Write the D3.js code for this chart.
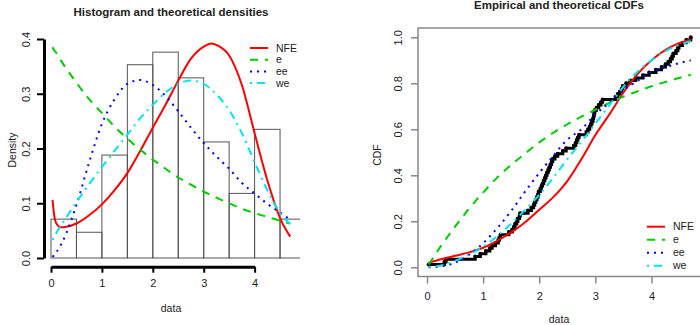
<!DOCTYPE html>
<html>
<head>
<meta charset="utf-8">
<script src="https://cdn.jsdelivr.net/npm/d3@7"></script>
<style>
  body { margin: 0; background: #fff; }
  text { font-family: "Liberation Sans", Arial, sans-serif; fill: #222; }
</style>
</head>
<body>
<div id="chart"></div>
<script>
// Fitted distributions: histogram + densities (left), ECDF + CDFs (right)

// Pt. 0 - DATA

const fitNames = ["NFE", "e", "ee", "we"];

const histBreaks = [0, 0.5, 1, 1.5, 2, 2.5, 3, 3.5, 4, 4.5, 5];
const histDensity = [0.071, 0.047, 0.188, 0.353, 0.376, 0.329, 0.212, 0.118, 0.235, 0.071];

const densX = [0.03, 0.06, 0.1, 0.2, 0.3, 0.5, 0.75, 1, 1.25, 1.5, 1.75, 2, 2.25, 2.5, 2.75, 3, 3.15, 3.3, 3.5, 3.75, 4, 4.25, 4.5, 4.7];
const densNFE = [0.106, 0.08, 0.064, 0.056, 0.057, 0.063, 0.078, 0.098, 0.124, 0.155, 0.195, 0.238, 0.28, 0.324, 0.364, 0.386, 0.392, 0.387, 0.37, 0.316, 0.228, 0.142, 0.073, 0.039];
const densE   = [0.385, 0.38, 0.375, 0.36, 0.346, 0.32, 0.29, 0.265, 0.24, 0.218, 0.198, 0.18, 0.163, 0.147, 0.134, 0.121, 0.115, 0.108, 0.1, 0.09, 0.082, 0.075, 0.068, 0.063];
const densEE  = [0.002, 0.005, 0.01, 0.025, 0.045, 0.097, 0.175, 0.245, 0.29, 0.318, 0.325, 0.316, 0.296, 0.268, 0.238, 0.21, 0.195, 0.181, 0.163, 0.137, 0.118, 0.099, 0.083, 0.07];
const densWE  = [0.033, 0.038, 0.045, 0.06, 0.074, 0.102, 0.135, 0.166, 0.196, 0.225, 0.255, 0.28, 0.302, 0.318, 0.324, 0.318, 0.308, 0.294, 0.27, 0.228, 0.175, 0.124, 0.082, 0.062];

const cdfX = [0.03, 0.25, 0.5, 0.75, 1, 1.25, 1.5, 1.75, 2, 2.25, 2.5, 2.75, 3, 3.25, 3.5, 3.75, 4, 4.25, 4.5, 4.7];
const cdfNFE = [0.02, 0.035, 0.05, 0.065, 0.085, 0.115, 0.152, 0.196, 0.25, 0.305, 0.375, 0.47, 0.575, 0.665, 0.76, 0.84, 0.9, 0.945, 0.975, 0.99];
const cdfE   = [0.012, 0.093, 0.177, 0.255, 0.325, 0.39, 0.445, 0.495, 0.543, 0.585, 0.622, 0.655, 0.685, 0.715, 0.742, 0.765, 0.787, 0.806, 0.824, 0.837];
const cdfEE  = [0.0, 0.004, 0.02, 0.055, 0.105, 0.17, 0.245, 0.33, 0.41, 0.485, 0.555, 0.6, 0.665, 0.715, 0.77, 0.81, 0.85, 0.87, 0.888, 0.9];
const cdfWE  = [0.002, 0.008, 0.028, 0.055, 0.09, 0.135, 0.19, 0.25, 0.315, 0.39, 0.47, 0.545, 0.625, 0.705, 0.785, 0.85, 0.9, 0.94, 0.968, 0.983];

// sorted observations for the empirical CDF (n = 85)
const obs = [0.03, 0.31, 0.34,
  0.86, 0.95,
  1.05, 1.12, 1.16, 1.22, 1.27, 1.29, 1.31, 1.46,
  1.52, 1.55, 1.57, 1.6, 1.62, 1.65, 1.66, 1.8, 1.86, 1.9, 1.92, 1.94, 1.96, 1.98, 1.99,
  2.02, 2.04, 2.06, 2.08, 2.1, 2.12, 2.14, 2.16, 2.18, 2.2, 2.22, 2.24, 2.28, 2.33, 2.42, 2.48,
  2.62, 2.65, 2.67, 2.69, 2.71, 2.84, 2.87, 2.9, 2.92, 2.94, 2.96, 2.97, 2.98, 2.99,
  3.02, 3.06, 3.1, 3.13, 3.36, 3.4, 3.44, 3.47, 3.49,
  3.55, 3.62, 3.72, 3.85, 3.96,
  4.08, 4.18, 4.25, 4.3, 4.34, 4.37, 4.39, 4.44, 4.47, 4.49,
  4.55, 4.62, 4.7];

const xTicks = [0, 1, 2, 3, 4];
const densTicks = [0, 0.1, 0.2, 0.3, 0.4];
const cdfTicks = [0, 0.2, 0.4, 0.6, 0.8, 1.0];

// Pt. 1 - STYLES per fit

const colors = ["#ff0000", "#00cd00", "#0000ff", "#00e5ee"];
const dashes = [null, "8,7", "2,5", "2,5,8,5"];

const width = 700, height = 325;

let svg = d3.select("#chart")
    .append("svg")
    .attr("width", width)
    .attr("height", height);

svg.append("rect").attr("width", width).attr("height", height).attr("fill", "#fff");

let defs = svg.append("defs");
defs.append("clipPath").attr("id", "clipL")
    .append("rect").attr("x", 44).attr("y", 28).attr("width", 256).attr("height", 239);
defs.append("clipPath").attr("id", "clipR")
    .append("rect").attr("x", 418).attr("y", 28).attr("width", 283).attr("height", 249);

// Pt. 2 - LEFT PANEL: HISTOGRAM + DENSITIES

let x = d3.scaleLinear().domain([0, 4]).range([51, 254.6]);
let y = d3.scaleLinear().domain([0, 0.4]).range([258, 39]);

let left = svg.append("g");
let plotL = left.append("g").attr("clip-path", "url(#clipL)");

plotL.selectAll(".bar")
    .data(histDensity)
    .join("rect")
    .attr("class", "bar")
    .attr("x", (d, i) => x(histBreaks[i]))
    .attr("width", (d, i) => x(histBreaks[i + 1]) - x(histBreaks[i]))
    .attr("y", d => y(d))
    .attr("height", d => y(0) - y(d))
    .attr("fill", "none")
    .attr("stroke", "#555")
    .attr("stroke-width", 1);

const densSeries = [densNFE, densE, densEE, densWE];
let densLine = d3.line().x(d => x(d[0])).y(d => y(d[1])).curve(d3.curveMonotoneX);

densSeries.forEach((s, k) => {
    plotL.append("path")
        .datum(densX.map((v, i) => [v, s[i]]))
        .attr("d", densLine)
        .attr("fill", "none")
        .attr("stroke", colors[k])
        .attr("stroke-width", 2)
        .attr("stroke-dasharray", dashes[k]);
});

// axes (thick black, R style)
let axL = left.append("g")
    .attr("transform", "translate(44,0)")
    .call(d3.axisLeft(y).tickValues(densTicks).tickFormat(d3.format(".1f")).tickSize(7).tickSizeOuter(0));
let axB = left.append("g")
    .attr("transform", "translate(0,266.7)")
    .call(d3.axisBottom(x).tickValues(xTicks).tickFormat(d3.format("d")).tickSize(6).tickSizeOuter(0));

[axL, axB].forEach(a => {
    a.select(".domain").attr("stroke", "#000").attr("stroke-width", 3);
    a.selectAll(".tick line").attr("stroke", "#000").attr("stroke-width", 2);
    a.selectAll("text").style("font-size", "11px").attr("fill", "#222");
});
axL.selectAll(".tick text")
    .attr("transform", "rotate(-90)")
    .attr("text-anchor", "middle")
    .attr("x", 0).attr("y", -14).attr("dy", null);
axB.selectAll(".tick text").attr("y", 13);

left.append("text")
    .attr("x", 171).attr("y", 16)
    .attr("text-anchor", "middle")
    .style("font-size", "11.5px").style("font-weight", "bold")
    .text("Histogram and theoretical densities");
left.append("text")
    .attr("x", 171).attr("y", 312)
    .attr("text-anchor", "middle")
    .style("font-size", "10.5px")
    .text("data");
left.append("text")
    .attr("transform", "translate(16,150) rotate(-90)")
    .attr("text-anchor", "middle")
    .style("font-size", "10.5px")
    .text("Density");

// legend (top right)
let legL = left.append("g");
fitNames.forEach((n, k) => {
    let yy = 48 + k * 11.7;
    legL.append("line")
        .attr("x1", 250).attr("x2", 268).attr("y1", yy).attr("y2", yy)
        .attr("stroke", colors[k]).attr("stroke-width", 2)
        .attr("stroke-dasharray", dashes[k]);
    legL.append("text")
        .attr("x", 276).attr("y", yy + 3.6)
        .style("font-size", "10.5px")
        .text(n);
});

// Pt. 3 - RIGHT PANEL: EMPIRICAL + THEORETICAL CDFs

let x2 = d3.scaleLinear().domain([0, 4]).range([427, 651.5]);
let y2 = d3.scaleLinear().domain([0, 1]).range([267.3, 37.3]);

let right = svg.append("g");
let plotR = right.append("g").attr("clip-path", "url(#clipR)");

const n = obs.length;
let ecdf = obs.map((v, i) => [v, (i + 1) / n]);

plotR.append("path")
    .datum(ecdf)
    .attr("d", d3.line().x(d => x2(d[0])).y(d => y2(d[1])).curve(d3.curveStepAfter))
    .attr("fill", "none")
    .attr("stroke", "#000")
    .attr("stroke-width", 3);
plotR.selectAll(".pt")
    .data(ecdf)
    .join("circle")
    .attr("class", "pt")
    .attr("cx", d => x2(d[0]))
    .attr("cy", d => y2(d[1]))
    .attr("r", 2)
    .attr("fill", "#000");

const cdfSeries = [cdfNFE, cdfE, cdfEE, cdfWE];
let cdfLine = d3.line().x(d => x2(d[0])).y(d => y2(d[1])).curve(d3.curveMonotoneX);
cdfSeries.forEach((s, k) => {
    plotR.append("path")
        .datum(cdfX.map((v, i) => [v, s[i]]))
        .attr("d", cdfLine)
        .attr("fill", "none")
        .attr("stroke", colors[k])
        .attr("stroke-width", 2)
        .attr("stroke-dasharray", dashes[k]);
});

// box
right.append("rect")
    .attr("x", 418).attr("y", 28).attr("width", 283).attr("height", 248.5)
    .attr("fill", "none").attr("stroke", "#888").attr("stroke-width", 1.5);

let axL2 = right.append("g")
    .attr("transform", "translate(418,0)")
    .call(d3.axisLeft(y2).tickValues(cdfTicks).tickFormat(d3.format(".1f")).tickSize(7).tickSizeOuter(0));
let axB2 = right.append("g")
    .attr("transform", "translate(0,276.5)")
    .call(d3.axisBottom(x2).tickValues(xTicks).tickFormat(d3.format("d")).tickSize(7).tickSizeOuter(0));

[axL2, axB2].forEach(a => {
    a.select(".domain").remove();
    a.selectAll(".tick line").attr("stroke", "#888").attr("stroke-width", 1.5);
    a.selectAll("text").style("font-size", "11px").attr("fill", "#222");
});
axL2.selectAll(".tick text")
    .attr("transform", "rotate(-90)")
    .attr("text-anchor", "middle")
    .attr("x", 0).attr("y", -16).attr("dy", null);
axB2.selectAll(".tick text").attr("y", 16);

right.append("text")
    .attr("x", 559).attr("y", 9)
    .attr("text-anchor", "middle")
    .style("font-size", "11.5px").style("font-weight", "bold")
    .text("Empirical and theoretical CDFs");
right.append("text")
    .attr("x", 559).attr("y", 323)
    .attr("text-anchor", "middle")
    .style("font-size", "10.5px")
    .text("data");
right.append("text")
    .attr("transform", "translate(381,155) rotate(-90)")
    .attr("text-anchor", "middle")
    .style("font-size", "10.5px")
    .text("CDF");

// legend (bottom right)
let legR = right.append("g");
fitNames.forEach((nm, k) => {
    let yy = 226.7 + k * 13;
    legR.append("line")
        .attr("x1", 647).attr("x2", 665).attr("y1", yy).attr("y2", yy)
        .attr("stroke", colors[k]).attr("stroke-width", 2)
        .attr("stroke-dasharray", dashes[k]);
    legR.append("text")
        .attr("x", 673).attr("y", yy + 3.6)
        .style("font-size", "10.5px")
        .text(nm);
});
</script>
</body>
</html>
